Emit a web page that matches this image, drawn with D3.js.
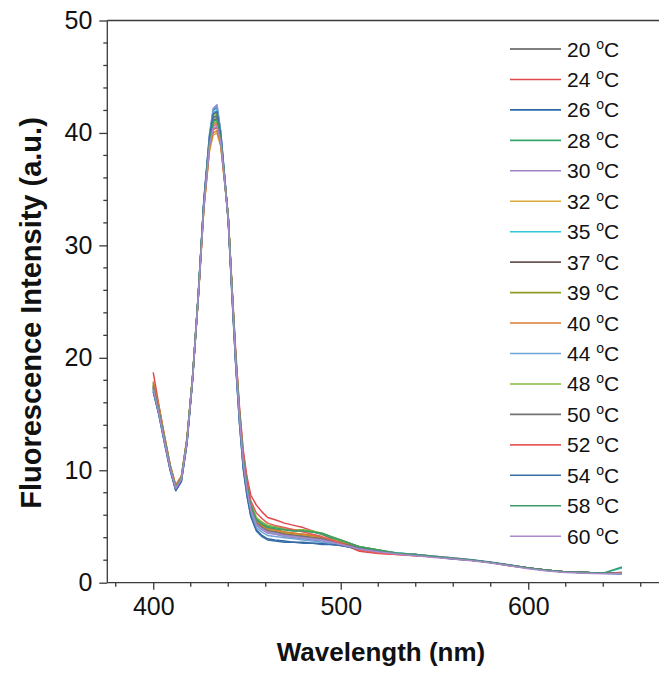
<!DOCTYPE html>
<html>
<head>
<meta charset="utf-8">
<script src="https://cdn.jsdelivr.net/npm/d3@7"></script>
<style>
  html, body { margin: 0; padding: 0; background: #fff; }
  svg { display: block; font-family: "Liberation Sans", Arial, sans-serif; }
</style>
</head>
<body>
<svg id="chart" width="659" height="675"></svg>
<script>
// ---- data ----
const wavelengths = [400,403,406,409,412,415,418,421,424,427,430,432,434,436,438,440,442,444,446,448,450,452,455,458,461,465,470,475,480,485,490,495,500,510,520,530,540,550,560,570,580,590,600,610,620,630,640,650];
const temps = ["20","24","26","28","30","32","35","37","39","40","44","48","50","52","54","58","60"];
const I20 = [17.2,15.1,12.6,10.2,8.5,9.3,12.8,18.4,25.6,33.8,39.2,40.8,41.0,39.6,36.1,32.5,26.1,19.9,14.9,10.9,8.5,6.7,5.2,4.8,4.5,4.4,4.2,4.2,4.0,3.9,3.8,3.6,3.4,3.0,2.8,2.6,2.5,2.3,2.1,2.0,1.8,1.5,1.3,1.1,0.95,0.9,0.85,0.85];
const I24 = [18.7,15.8,13.0,10.4,8.6,9.4,12.7,18.3,25.3,33.4,38.6,40.3,40.5,39.0,35.8,32.6,26.4,20.5,15.6,11.8,9.4,7.8,6.9,6.3,5.8,5.6,5.3,5.1,4.9,4.6,4.3,3.9,3.5,2.8,2.6,2.5,2.4,2.3,2.2,2.0,1.8,1.5,1.3,1.1,0.95,0.9,0.85,0.9];
const I26 = [17.0,15.0,12.5,10.1,8.2,9.0,12.4,18.0,25.3,33.8,39.6,42.0,42.3,40.0,36.2,32.2,25.6,19.4,14.2,10.2,7.8,6.0,4.7,4.2,3.9,3.8,3.7,3.6,3.6,3.5,3.5,3.4,3.3,3.0,2.8,2.6,2.45,2.3,2.1,2.0,1.8,1.55,1.3,1.1,0.95,0.9,0.85,0.8];
const I28 = [17.5,15.4,12.9,10.4,8.5,9.3,12.7,18.3,25.5,33.7,39.3,41.4,41.6,39.7,36.1,32.5,26.1,20.0,15.1,11.2,8.8,7.0,5.7,5.3,5.0,4.9,4.7,4.6,4.6,4.5,4.3,4.0,3.7,3.2,2.9,2.6,2.5,2.3,2.15,2.0,1.8,1.55,1.3,1.1,0.95,0.9,0.85,0.9];
const I30 = [17.3,15.2,12.7,10.2,8.3,9.1,12.5,18.2,25.6,34.0,39.8,42.2,42.5,40.1,36.3,32.4,25.9,19.6,14.6,10.6,8.2,6.4,5.1,4.7,4.4,4.3,4.1,4.0,3.9,3.8,3.7,3.6,3.4,3.1,2.8,2.6,2.45,2.3,2.15,2.0,1.8,1.55,1.3,1.1,0.95,0.9,0.85,0.85];
const I32 = [17.6,15.5,12.9,10.4,8.6,9.4,12.8,18.3,25.2,33.2,38.4,39.8,40.0,38.8,35.7,32.3,26.0,19.9,14.9,10.9,8.5,6.7,5.4,5.0,4.7,4.6,4.4,4.3,4.2,4.1,4.0,3.8,3.5,3.1,2.8,2.6,2.45,2.3,2.15,2.0,1.8,1.55,1.3,1.1,0.95,0.9,0.85,0.85];
const I35 = [17.4,15.3,12.7,10.2,8.4,9.2,12.6,18.2,25.5,33.9,39.5,41.8,42.0,39.8,36.2,32.4,25.9,19.7,14.7,10.7,8.3,6.5,5.2,4.8,4.5,4.4,4.2,4.1,4.0,3.9,3.8,3.7,3.5,3.1,2.85,2.65,2.5,2.35,2.2,2.05,1.8,1.55,1.3,1.1,0.95,0.9,0.85,1.3];
const I37 = [17.8,15.5,12.9,10.3,8.4,9.2,12.6,18.2,25.4,33.6,39.1,41.1,41.3,39.5,36.0,32.4,26.0,19.8,14.8,10.8,8.4,6.6,5.3,4.9,4.6,4.5,4.3,4.2,4.1,4.0,3.9,3.7,3.5,3.1,2.8,2.6,2.45,2.3,2.15,2.0,1.8,1.55,1.3,1.1,0.95,0.9,0.85,0.85];
const I39 = [17.7,15.6,13.0,10.5,8.6,9.3,12.7,18.3,25.5,33.8,39.4,41.6,41.8,39.7,36.1,32.5,26.1,20.0,15.0,11.0,8.6,6.8,5.5,5.1,4.8,4.7,4.5,4.4,4.3,4.2,4.0,3.8,3.6,3.2,2.9,2.6,2.45,2.3,2.15,2.0,1.8,1.55,1.3,1.1,0.95,0.9,0.85,0.85];
const I40 = [17.9,15.7,13.1,10.5,8.7,9.5,12.9,18.4,25.3,33.3,38.6,40.0,40.2,38.9,35.8,32.4,26.1,20.0,15.0,11.0,8.6,6.8,5.5,5.1,4.8,4.7,4.5,4.4,4.3,4.2,4.0,3.8,3.6,3.1,2.8,2.6,2.5,2.35,2.2,2.0,1.8,1.55,1.3,1.1,0.95,0.9,0.85,0.85];
const I44 = [17.1,15.0,12.5,10.1,8.3,9.1,12.5,18.2,25.7,34.1,39.9,42.1,42.4,40.1,36.3,32.3,25.7,19.5,14.4,10.4,8.0,6.2,4.9,4.5,4.2,4.1,4.0,3.9,3.8,3.7,3.6,3.5,3.4,3.1,2.85,2.65,2.5,2.35,2.2,2.05,1.85,1.6,1.3,1.1,0.95,0.9,0.85,0.85];
const I48 = [17.5,15.4,12.8,10.3,8.5,9.3,12.7,18.3,25.4,33.6,39.0,40.8,41.0,39.4,36.0,32.5,26.2,20.1,15.2,11.3,8.9,7.1,5.8,5.4,5.1,5.0,4.8,4.7,4.7,4.6,4.4,4.1,3.8,3.2,2.9,2.6,2.45,2.3,2.15,2.0,1.8,1.55,1.3,1.1,0.95,0.9,0.85,0.85];
const I50 = [17.3,15.2,12.7,10.2,8.4,9.2,12.6,18.2,25.5,33.8,39.3,41.3,41.5,39.6,36.1,32.4,26.0,19.8,14.8,10.8,8.4,6.6,5.3,4.9,4.6,4.5,4.3,4.2,4.1,4.0,3.9,3.7,3.5,3.1,2.8,2.6,2.45,2.3,2.15,2.0,1.8,1.55,1.3,1.1,0.95,0.9,0.85,0.85];
const I52 = [17.6,15.4,12.8,10.3,8.5,9.3,12.7,18.2,25.3,33.4,38.8,40.6,40.8,39.2,35.9,32.5,26.3,20.3,15.4,11.5,9.1,7.3,6.2,5.7,5.3,5.1,4.9,4.7,4.5,4.3,4.1,3.8,3.5,2.9,2.65,2.5,2.4,2.3,2.15,2.0,1.8,1.55,1.3,1.1,0.95,0.9,0.85,0.85];
const I54 = [17.0,14.9,12.4,10.0,8.2,9.0,12.4,18.1,25.5,33.9,39.6,41.7,41.9,39.8,36.0,32.1,25.5,19.3,14.2,10.1,7.7,5.9,4.6,4.1,3.8,3.7,3.6,3.6,3.5,3.5,3.4,3.4,3.3,3.0,2.8,2.6,2.45,2.3,2.15,2.0,1.8,1.55,1.3,1.1,0.95,0.9,0.85,0.8];
const I58 = [17.4,15.3,12.8,10.3,8.5,9.3,12.7,18.3,25.5,33.7,39.2,41.0,41.2,39.5,36.1,32.5,26.2,20.1,15.1,11.1,8.7,6.9,5.6,5.2,4.9,4.8,4.7,4.6,4.6,4.5,4.4,4.1,3.8,3.2,2.9,2.65,2.5,2.3,2.15,2.0,1.8,1.55,1.3,1.1,0.95,0.9,0.85,1.4];
const I60 = [17.2,15.1,12.6,10.2,8.4,9.2,12.6,18.2,25.4,33.5,38.9,40.4,40.6,39.2,35.9,32.3,25.9,19.7,14.7,10.7,8.3,6.5,5.2,4.8,4.5,4.4,4.2,4.1,4.0,3.9,3.8,3.6,3.4,3.0,2.75,2.55,2.4,2.25,2.1,1.95,1.75,1.5,1.25,1.05,0.9,0.85,0.8,0.8];
const xTicks = [400, 500, 600];
const yTicks = [0, 10, 20, 30, 40, 50];

// ---- styles ----
const colors = ["#555555","#e2474b","#2c6aa8","#3aa86c","#a47fc8","#dcaa3a","#33c7d6","#6b5656","#8f9a22","#d97c33","#6fa3d6","#84b83c","#737373","#e65b5b","#3b6ea8","#3a9c68","#a98bcb"];
const seriesData = [I20,I24,I26,I28,I30,I32,I35,I37,I39,I40,I44,I48,I50,I52,I54,I58,I60];

const svg = d3.select("#chart");
const L = 107.3, T = 20.5, B = 582.7;
const x = d3.scaleLinear().domain([375.5, 675]).range([L, L + (675 - 375.5) * 1.875]);
const y = d3.scaleLinear().domain([0, 50]).range([B, T]);
const axisColor = "#3a3a3a";

// curves
const line = d3.line().x((d, i) => x(wavelengths[i])).y(d => y(d)).curve(d3.curveLinear);
const gLines = svg.append("g");
seriesData.forEach((s, k) => {
  gLines.append("path").datum(s).attr("d", line)
    .attr("fill", "none").attr("stroke", colors[k]).attr("stroke-width", 1.5)
    .attr("stroke-linejoin", "round");
});

// axes
const xAxis = d3.axisBottom(x).tickValues(xTicks).tickSize(7).tickPadding(8).tickFormat(d3.format("d"));
const gx = svg.append("g").attr("transform", `translate(0,${B})`).call(xAxis);
const xMinor = d3.range(380, 680, 20).filter(v => !xTicks.includes(v));
gx.selectAll(".minor").data(xMinor).enter().append("line").attr("class", "minor")
  .attr("x1", d => x(d)).attr("x2", d => x(d)).attr("y1", 0).attr("y2", 4);
gx.select(".domain").attr("d", `M${L},0H659`);

const yAxis = d3.axisLeft(y).tickValues(yTicks).tickSize(8).tickPadding(7);
const gy = svg.append("g").attr("transform", `translate(${L},0)`).call(yAxis);
const yMinor = d3.range(2, 50, 2).filter(v => v % 10 !== 0);
gy.selectAll(".minor").data(yMinor).enter().append("line").attr("class", "minor")
  .attr("x1", -4).attr("x2", 0).attr("y1", d => y(d)).attr("y2", d => y(d));
gy.select(".domain").attr("d", `M0,${B}V${T}`);

svg.append("line").attr("x1", L).attr("x2", 659).attr("y1", T).attr("y2", T)
  .attr("stroke", axisColor).attr("stroke-width", 1.3);

[gx, gy].forEach(g => {
  g.selectAll("path, line").attr("stroke", axisColor).attr("stroke-width", 1.3);
  g.selectAll("text").attr("fill", "#111").style("font-size", "25px")
    .style("font-family", "'Liberation Sans', Arial, sans-serif");
});

// axis titles
svg.append("text").attr("x", 381).attr("y", 661).attr("text-anchor", "middle")
  .style("font-size", "26px").style("font-weight", "bold").attr("fill", "#111")
  .text("Wavelength (nm)");
svg.append("text").attr("transform", "translate(41,313) rotate(-90)").attr("text-anchor", "middle")
  .style("font-size", "29px").style("font-weight", "bold").attr("fill", "#111")
  .text("Fluorescence Intensity (a.u.)");

// legend
const lg = svg.append("g");
temps.forEach((t, k) => {
  const yy = 49 + k * 30.45;
  lg.append("line").attr("x1", 510).attr("x2", 561).attr("y1", yy).attr("y2", yy)
    .attr("stroke", colors[k]).attr("stroke-width", 1.6);
  const tx = lg.append("text").attr("x", 567).attr("y", yy + 7.5)
    .style("font-size", "21px").attr("fill", "#111");
  tx.append("tspan").text(t + " ");
  tx.append("tspan").attr("dy", -8).style("font-size", "14px").text("o");
  tx.append("tspan").attr("dy", 8).text("C");
});
</script>
</body>
</html>
